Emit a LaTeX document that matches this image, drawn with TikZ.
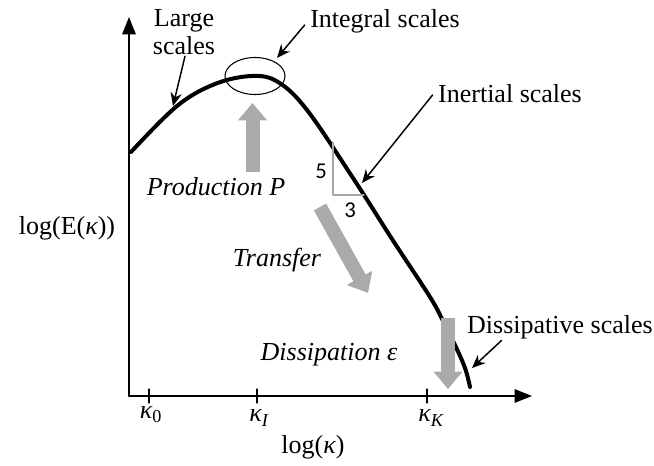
\documentclass[tikz,border=0pt]{standalone}
\usepackage{fontspec}
\setmainfont{Liberation Serif}
\newfontfamily\digitfont{Carlito}
\usetikzlibrary{arrows.meta,calc}
\definecolor{flowgray}{RGB}{170,170,170}

\begin{document}
\begin{tikzpicture}[x=0.75pt,y=-0.75pt,>=Stealth,line cap=round,line join=round,
    axis/.style={line width=1.5pt,-{Triangle[length=13pt,width=10pt]}},
    spectrum/.style={line width=3pt},
    pointer/.style={line width=1.1pt,-{Stealth[length=10pt,width=8.5pt]}},
    flow/.style={flowgray,line width=10.5pt,line cap=butt,-{Triangle[length=13pt,width=21pt]}},
    lbl/.style={inner sep=1pt,font=\fontsize{19.5}{21}\selectfont},
    slbl/.style={lbl,font=\fontsize{19.5}{21}\selectfont\itshape}]
    \useasboundingbox (0,0) rectangle (654,466);

    % The two axes.
    \coordinate (origin) at (129,396);
    \coordinate (ytop) at (129,17);
    \coordinate (xend) at (532,396);
    \draw[axis] (origin) -- (ytop);
    \draw[axis] (origin) -- (xend);
    \node[lbl] (ylabel) at (67,228) {log(E({\itshape κ}))};
    \node[lbl] (xlabel) at (313,447) {log({\itshape κ})};

    % Ticks on the wavenumber axis.
    \foreach \x/\name in {149/zero,257/int,427/kol}
      \draw[line width=.8pt] (\x,389) -- (\x,403);
    \node[lbl] (kzero) at (151,415) {{\itshape κ}\textsubscript{0}};
    \node[lbl] (kint) at (259,418) {{\itshape κ}\textsubscript{\itshape I}};
    \node[lbl] (kkol) at (431,418) {{\itshape κ}\textsubscript{\itshape K}};

    % The energy spectrum.
    \draw[spectrum] plot[smooth,tension=.6] coordinates {(131,152) (177,106)
      (215,84) (252,76) (278,82) (307,110) (353,178) (392,239) (430,297)
      (443,321) (455,345) (465,368) (470,387)};
    \coordinate (largept) at (173,106);
    \coordinate (inertpt) at (362,183);
    \coordinate (dissippt) at (472,368);

    % The integral scales ellipse.
    \draw[line width=.8pt] (255,76) ellipse [x radius=30,y radius=18.5];
    \coordinate (intpt) at (277,58);

    % The -5/3 slope triangle.
    \draw[gray!70,line width=.8pt] (333,142) -- (333,195) -- (364,195);
    \node[inner sep=1pt,font=\fontsize{17}{19}\digitfont] (five) at (321,171) {5};
    \node[inner sep=1pt,font=\fontsize{17}{19}\digitfont] (three) at (350,210) {3};

    % Production, transfer and dissipation.
    \coordinate (prodtail) at (252.5,172);
    \coordinate (prodtip) at (252.5,103);
    \draw[flow] (prodtail) -- (prodtip);
    \coordinate (transtail) at (320,207);
    \coordinate (transtip) at (368,293);
    \draw[flow] (transtail) -- (transtip);
    \coordinate (disstail) at (448,318);
    \coordinate (disstip) at (448,389);
    \draw[flow] (disstail) -- (disstip);
    \node[slbl] (production) at (216,187) {Production P};
    \node[slbl] (transfer) at (277,260) {Transfer};
    \node[slbl] (dissipation) at (329,355) {Dissipation ε};

    % The scale labels and their pointers.
    \node[lbl,align=center] (large) at (184,32) {Large\\scales};
    \node[lbl] (integral) at (385,21) {Integral scales};
    \node[lbl] (inertial) at (510,94) {Inertial scales};
    \node[lbl] (dissipative) at (560,327) {Dissipative scales};
    \draw[pointer] ($(large.south)+(1,0)$) -- (largept);
    \draw[pointer] ($(integral.west)+(-4,4)$) -- (intpt);
    \draw[pointer] ($(inertial.west)+(-4,1)$) -- (inertpt);
    \draw[pointer] ($(dissipative.south west)+(36,0)$) -- (dissippt);
\end{tikzpicture}
\end{document}
